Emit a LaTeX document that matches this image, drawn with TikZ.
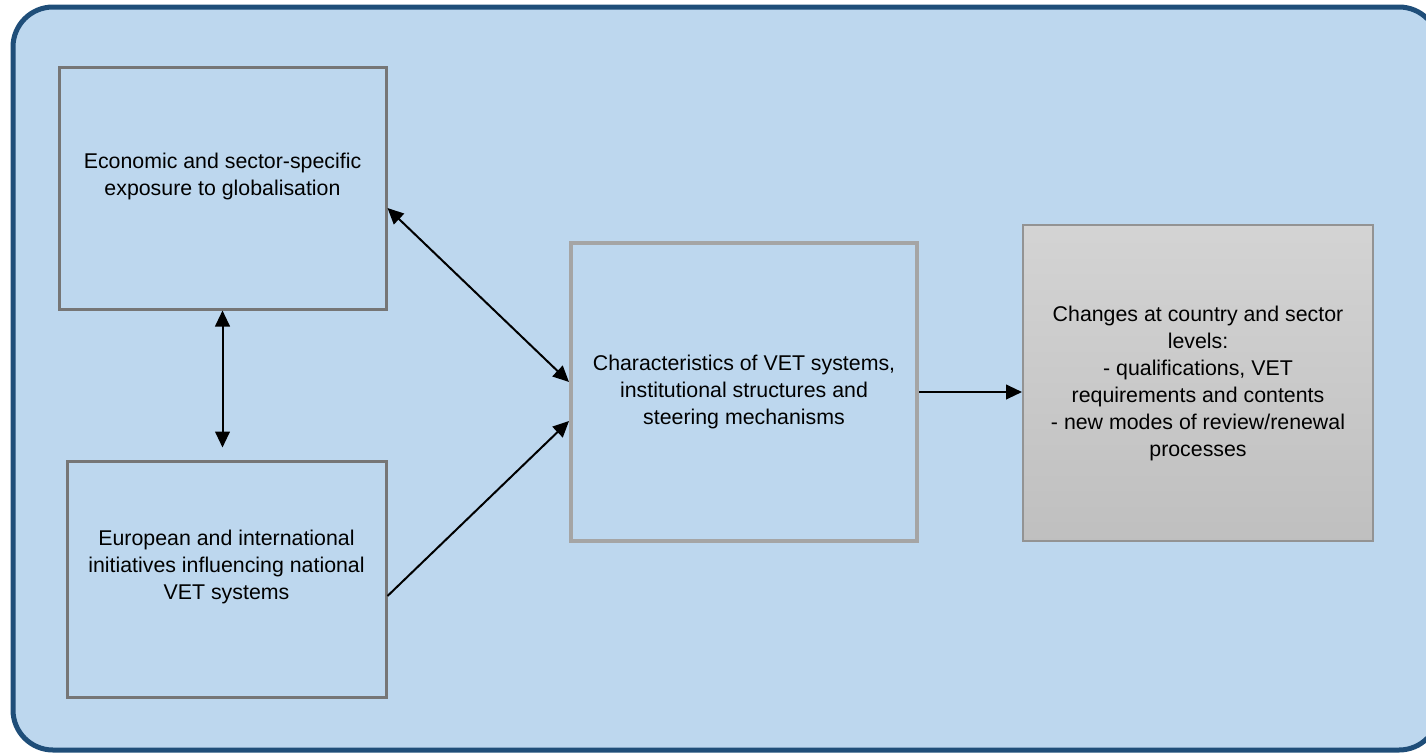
\documentclass[tikz,border=0pt]{standalone}
\usepackage{fontspec}
\setmainfont{Liberation Sans}
\usepackage{tikz}
\usetikzlibrary{arrows.meta,positioning,calc}
\definecolor{panelfill}{HTML}{BDD7EE}
\definecolor{paneldraw}{HTML}{1F4E79}
\definecolor{boxgray}{HTML}{767676}
\definecolor{vetgray}{HTML}{A5A5A5}

\begin{document}
\begin{tikzpicture}[
  x=0.75pt, y=-0.75pt,
  frame/.style={
    rectangle, draw=boxgray, line width=2.25pt, align=center,
    font=\fontsize{16pt}{20.25pt}\selectfont
  },
  txt/.style={align=center, font=\fontsize{16pt}{20.25pt}\selectfont},
  arr/.style={-{Triangle[length=12pt,width=11pt]}, line width=1.5pt, color=black},
  dbl/.style={{Triangle[length=12pt,width=11pt]}-{Triangle[length=12pt,width=11pt]}, line width=1.5pt, color=black},
]
  \useasboundingbox (0,0) rectangle (1426,753);
  \draw[fill=panelfill, draw=paneldraw, line width=3.75pt, rounded corners=30pt]
    (13,7) rectangle (1439,750);

  \node[frame, minimum width=245.25pt, minimum height=181.5pt,
    label={[txt,yshift=8.6pt]center:Economic and sector-specific\\exposure to globalisation}]
    (econ) at (222.5,188) {};
  \node[frame, minimum width=239.25pt, minimum height=177pt,
    label={[txt,yshift=9pt]center:European and international\\initiatives influencing national\\VET systems}]
    (intl) at (226.5,579) {};
  \node[frame, draw=vetgray, line width=3pt, minimum width=259.5pt, minimum height=223.5pt]
    (vet) at (744,392) {Characteristics of VET systems,\\institutional structures and\\steering mechanisms};
  \node[frame, draw=gray!85, line width=1.5pt, top color=black!17, bottom color=black!25,
    minimum width=262.5pt, minimum height=237pt]
    (change) at (1198,383) {Changes at country and sector\\levels:\\- qualifications, VET\\requirements and contents\\- new modes of review/renewal\\processes};

  \draw[dbl] ([yshift=-15pt]econ.east) -- ([yshift=7.5pt]vet.west);
  \draw[dbl, shorten >=9pt] (econ.south) -- (econ.south |- intl.north);
  \draw[arr] ([yshift=-12.75pt]intl.east) -- ([yshift=-21.75pt]vet.west);
  \draw[arr] (vet.east) -- (vet.east -| change.west);
\end{tikzpicture}
\end{document}
